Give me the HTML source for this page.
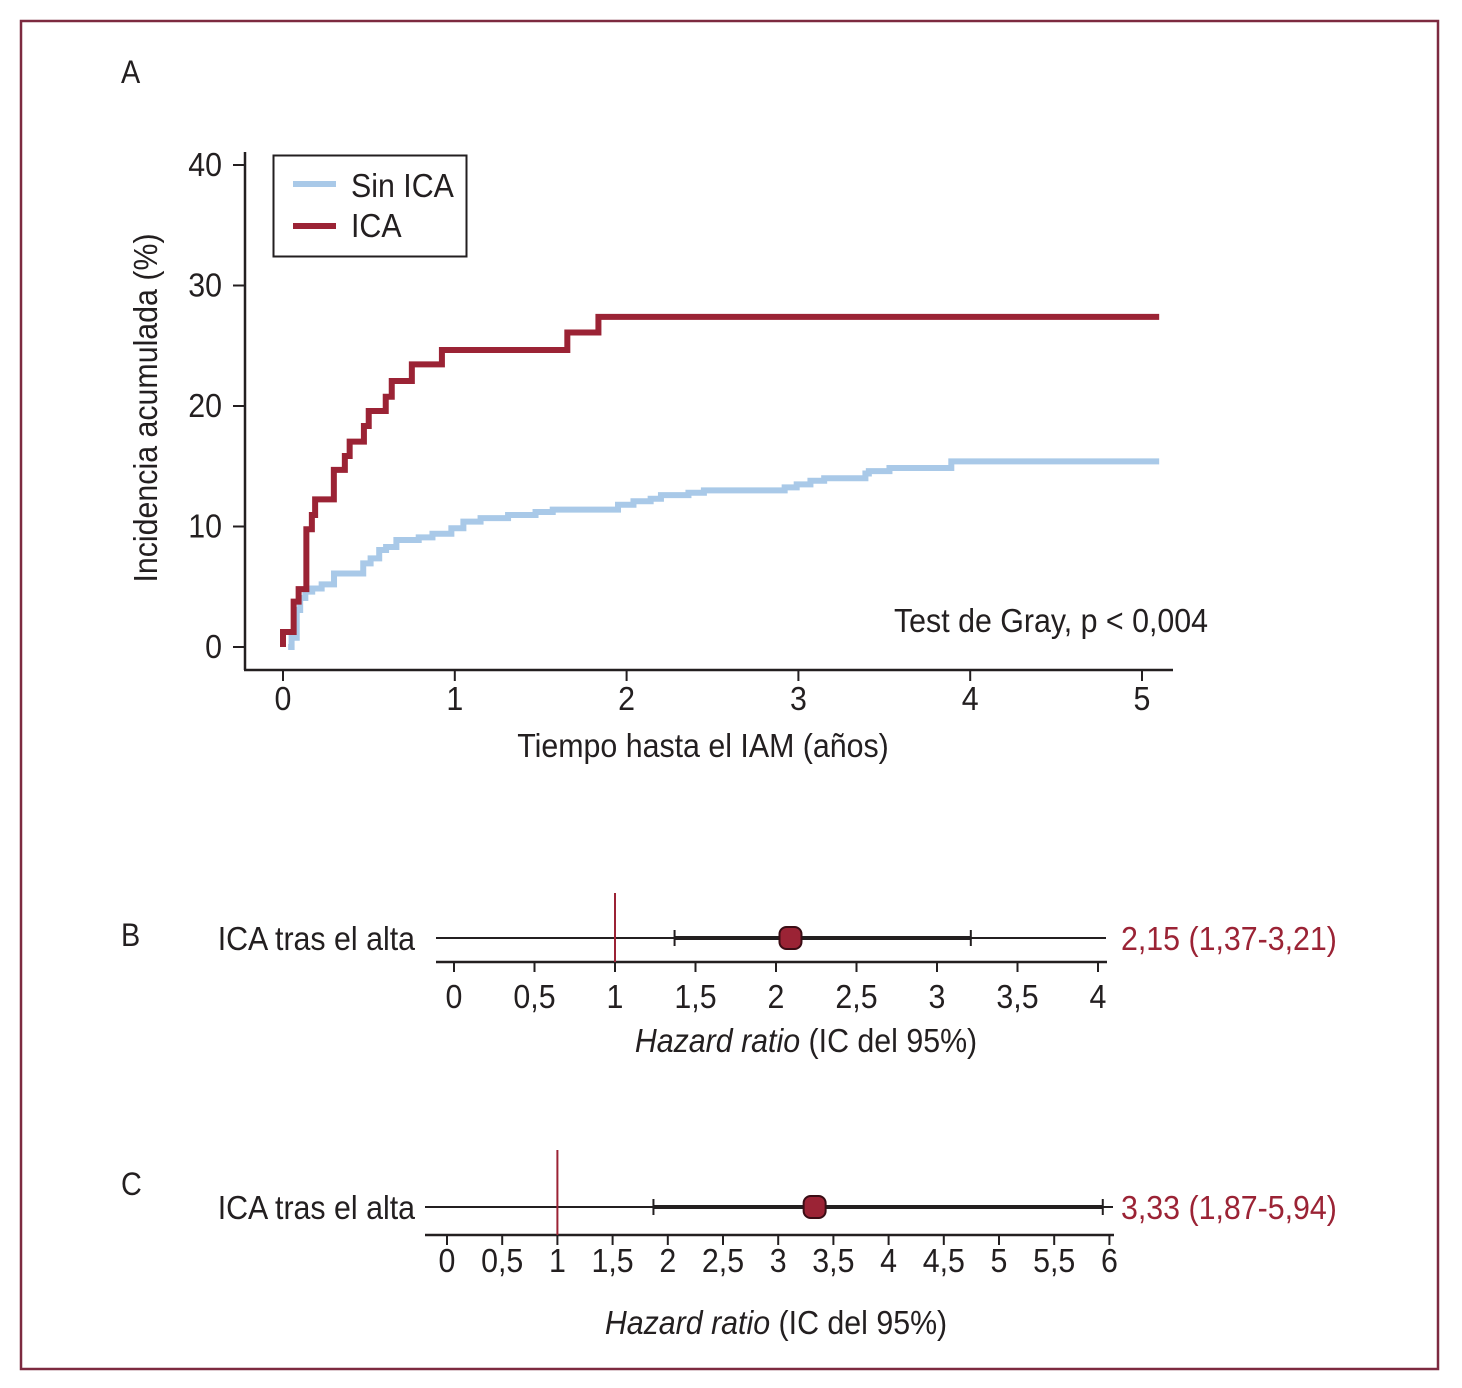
<!DOCTYPE html>
<html><head><meta charset="utf-8"><style>
body{margin:0;background:#fff}
svg text{font-family:"Liberation Sans Narrow","Liberation Sans",sans-serif;fill:#231f20}
</style></head><body>
<svg id="fig" width="1462" height="1383" viewBox="0 0 1462 1383" xmlns="http://www.w3.org/2000/svg">
<rect x="21" y="21" width="1417" height="1348" fill="none" stroke="#7d2a40" stroke-width="2.5"/>
<text transform="translate(121,83) scale(0.9,1)" font-size="32">A</text>
<text transform="translate(121,946) scale(0.9,1)" font-size="32">B</text>
<text transform="translate(121,1195) scale(0.9,1)" font-size="32">C</text>
<g id="km"></g>
<g id="fb"></g>
<g id="fc"></g>
</svg>
<script>
// Panel A data
const yTicks=[0,10,20,30,40];
const xTicks=[0,1,2,3,4,5];
const icaT=[0,0.062,0.091,0.136,0.168,0.187,0.296,0.36,0.388,0.471,0.499,0.598,0.633,0.75,0.925,1.655,1.836,5.1];
const icaV=[1.25,3.77,4.8,9.77,10.95,12.25,14.7,15.85,17.04,18.34,19.58,20.77,22.07,23.45,24.65,26.1,27.4,27.4];
const sinT=[0.03,0.05,0.08,0.1,0.13,0.17,0.225,0.297,0.467,0.51,0.56,0.6,0.66,0.79,0.87,0.98,1.05,1.15,1.31,1.47,1.57,1.95,2.04,2.14,2.2,2.36,2.45,2.92,2.99,3.07,3.15,3.39,3.41,3.53,3.89,5.1];
const sinV=[0,0.77,3.07,4.07,4.6,4.85,5.2,6.1,6.94,7.35,8.05,8.3,8.88,9.1,9.4,9.85,10.4,10.7,10.95,11.2,11.4,11.8,12.1,12.3,12.6,12.8,13.0,13.25,13.5,13.8,14.0,14.4,14.6,14.85,15.4,15.4];
// Panel B data
const bTicks=[0,0.5,1,1.5,2,2.5,3,3.5,4];
const bTickLabels=["0","0,5","1","1,5","2","2,5","3","3,5","4"];
const bEst=[2.09], bLo=[1.37], bHi=[3.21];
// Panel C data
const cTicks=[0,0.5,1,1.5,2,2.5,3,3.5,4,4.5,5,5.5,6];
const cTickLabels=["0","0,5","1","1,5","2","2,5","3","3,5","4","4,5","5","5,5","6"];
const cEst=[3.33], cLo=[1.87], cHi=[5.94];

const NS="http://www.w3.org/2000/svg";
const SX=0.92;
function mk(p,tag,a,txt){const e=document.createElementNS(NS,tag);for(const k in a)e.setAttribute(k,a[k]);if(txt!==undefined)e.textContent=txt;p.appendChild(e);return e;}
function tx(p,x,y,s,anchor,extra){const a={transform:`translate(${x},${y}) scale(${SX},1)`,'font-size':33,'text-anchor':anchor||'start'};Object.assign(a,extra||{});return mk(p,'text',a,s);}
const RED="#9b2335",BLUE="#a9c9e8",INK="#231f20";

// ---- Panel A
const km=document.getElementById('km');
const X=t=>283+t*171.8, Y=v=>647-v*12.05;
let e;
e=mk(km,'line',{x1:245,y1:152,x2:245,y2:670,stroke:INK,'stroke-width':2.5});


e=mk(km,'line',{x1:244,y1:670,x2:1173,y2:670,stroke:INK,'stroke-width':2.5});


yTicks.forEach(v=>{
  mk(km,'line',{x1:233,y1:Y(v),x2:245,y2:Y(v),stroke:INK,'stroke-width':2});
  e=tx(km,222,Y(v)+11,String(v),'end');
  
  
});
xTicks.forEach(v=>{
  mk(km,'line',{x1:X(v),y1:670,x2:X(v),y2:681,stroke:INK,'stroke-width':2});
  e=tx(km,X(v),710,String(v),'middle');
  
  
});
e=tx(km,703,757,'Tiempo hasta el IAM (años)','middle');


e=mk(km,'text',{transform:`translate(157,408) rotate(-90) scale(${SX},1)`,'font-size':33,'text-anchor':'middle'},'Incidencia acumulada (%)');


e=tx(km,1208,632,'Test de Gray, p < 0,004','end');


function stepPath(T,V,v0){let d=`M${X(T[0])},${Y(v0)}`;for(let i=0;i<T.length;i++){d+=` V${Y(V[i])}`;if(i<T.length-1)d+=` H${X(T[i+1])}`;}return d;}
e=mk(km,'path',{d:stepPath(sinT,sinV,0),fill:'none',stroke:BLUE,'stroke-width':6});


e=mk(km,'path',{d:stepPath(icaT,icaV,0),fill:'none',stroke:RED,'stroke-width':6});


// legend
e=mk(km,'rect',{x:273.5,y:155.5,width:193,height:101,fill:'#fff',stroke:INK,'stroke-width':2});


mk(km,'line',{x1:293,y1:184,x2:336,y2:184,stroke:BLUE,'stroke-width':6});
e=tx(km,351,197,'Sin ICA');


mk(km,'line',{x1:293,y1:226,x2:336,y2:226,stroke:RED,'stroke-width':6});
e=tx(km,351,237,'ICA');



// ---- forest plots
function forest(g,cfg){
  const F=v=>cfg.x0+v*cfg.u;
  mk(g,'line',{x1:cfg.lineX1,y1:cfg.ly,x2:cfg.lineX2,y2:cfg.ly,stroke:INK,'stroke-width':2});
  mk(g,'line',{x1:cfg.lineX1,y1:cfg.ay,x2:cfg.axX2,y2:cfg.ay,stroke:INK,'stroke-width':2.5});
  cfg.ticks.forEach((v,i)=>{
    mk(g,'line',{x1:F(v),y1:cfg.ay,x2:F(v),y2:cfg.ay+10,stroke:INK,'stroke-width':2});
    const t=tx(g,F(v),cfg.ay+cfg.lo_off,cfg.labels[i],'middle');
    
    
  });
  let r=mk(g,'line',{x1:F(1),y1:cfg.refY1,x2:F(1),y2:cfg.ay,stroke:RED,'stroke-width':2});
  
  
  r=mk(g,'line',{x1:F(cfg.lo[0]),y1:cfg.ly,x2:F(cfg.hi[0]),y2:cfg.ly,stroke:INK,'stroke-width':4});
  
  
  [cfg.lo[0],cfg.hi[0]].forEach(v=>mk(g,'line',{x1:F(v),y1:cfg.ly-8,x2:F(v),y2:cfg.ly+8,stroke:INK,'stroke-width':2}));
  r=mk(g,'rect',{x:F(cfg.est[0])-11,y:cfg.ly-11,width:22,height:22,rx:7,fill:RED,stroke:'#3a0d15','stroke-width':2});
  
  
  r=tx(g,415,cfg.ly+12,'ICA tras el alta','end');
  
  
  r=tx(g,cfg.vx,cfg.ly+12,cfg.vtxt,'start',{style:'fill:'+RED});
  
  
  r=mk(g,'text',{transform:`translate(${cfg.tx},${cfg.ty}) scale(${SX},1)`,'font-size':33,'text-anchor':'middle'});
  mk(r,'tspan',{'font-style':'italic'},'Hazard ratio');
  mk(r,'tspan',{},' (IC del 95%)');
  
  
}
forest(document.getElementById('fb'),{x0:454,u:161,ly:938,ay:962,lineX1:436,lineX2:1106,axX2:1107,refY1:893,lo_off:46,
  ticks:bTicks,labels:bTickLabels,est:bEst,lo:bLo,hi:bHi,vx:1121,vtxt:'2,15 (1,37-3,21)',tx:806,ty:1052});
forest(document.getElementById('fc'),{x0:447,u:110.4,ly:1207,ay:1235,lineX1:425,lineX2:1113,axX2:1114,refY1:1150,lo_off:37,
  ticks:cTicks,labels:cTickLabels,est:cEst,lo:cLo,hi:cHi,vx:1121,vtxt:'3,33 (1,87-5,94)',tx:776,ty:1334});
</script>
</body></html>
